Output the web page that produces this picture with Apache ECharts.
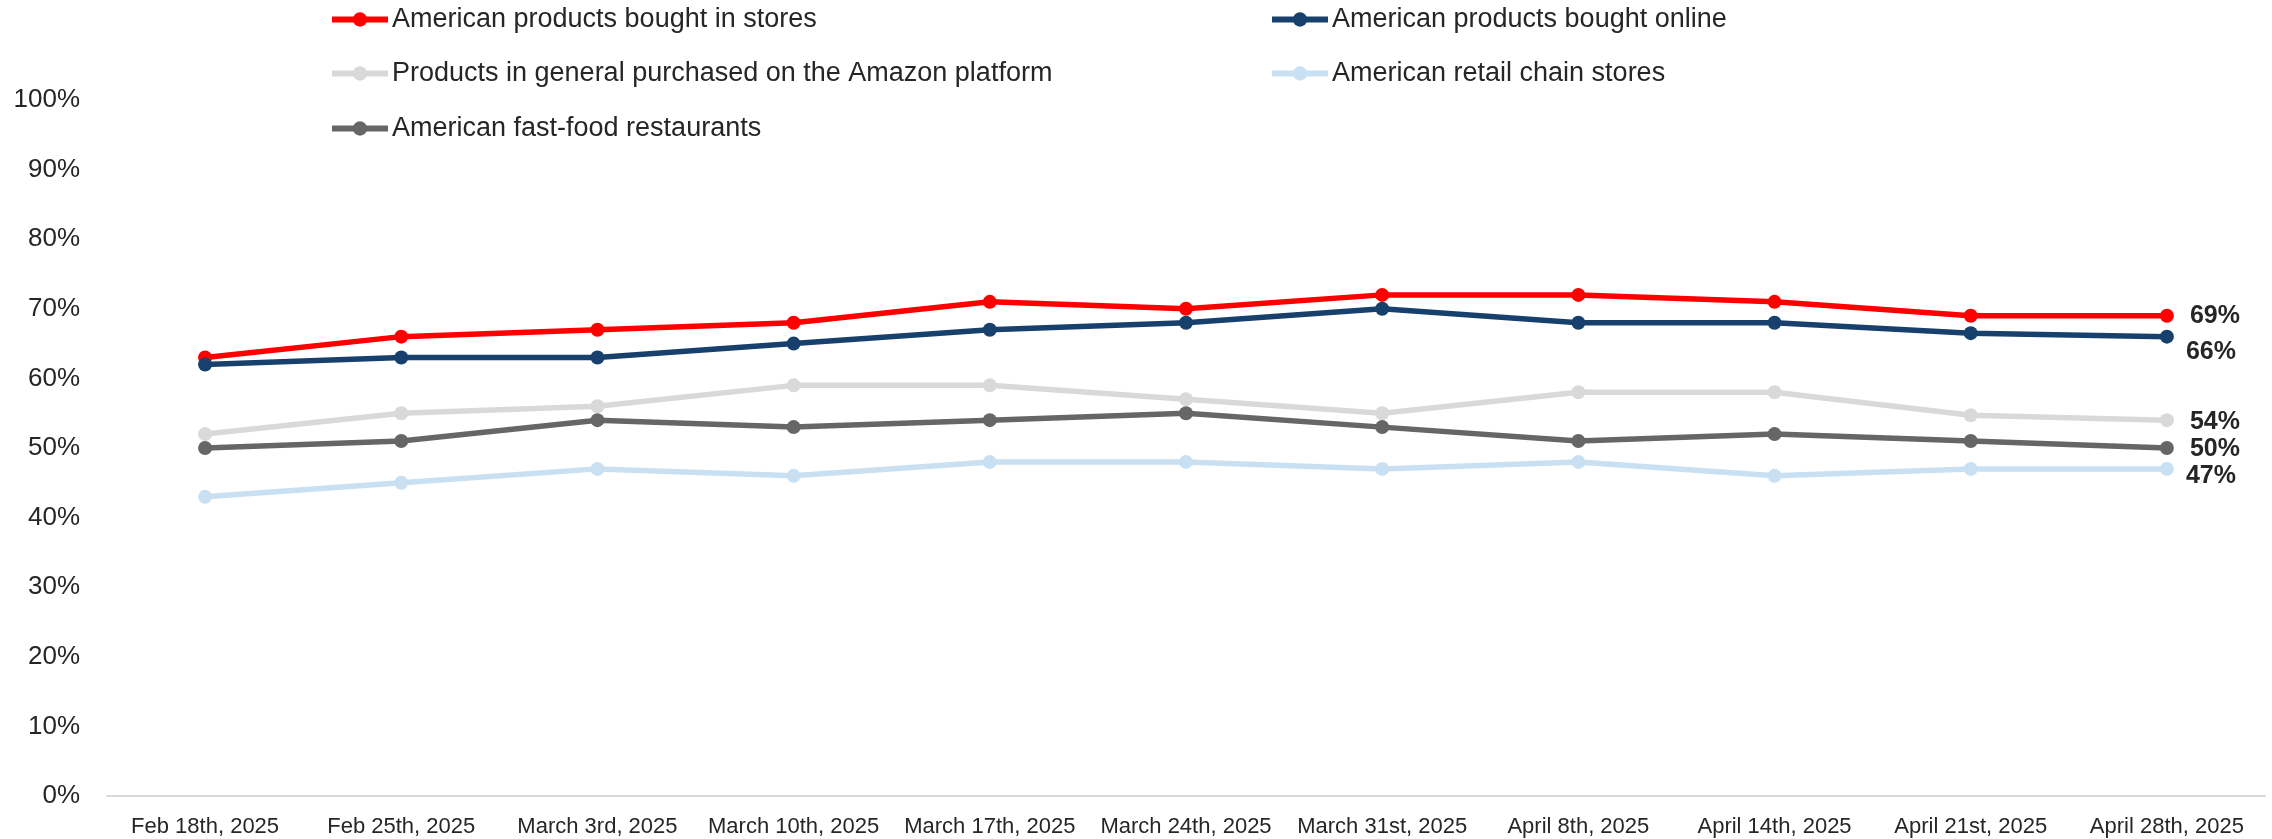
<!DOCTYPE html>
<html>
<head>
<meta charset="utf-8">
<title>American products purchase trend</title>
<script src="https://cdn.jsdelivr.net/npm/echarts@6/dist/echarts.min.js"></script>
<style>
  html, body { margin: 0; padding: 0; background: #ffffff; }
  #chart { width: 2272px; height: 839px; }
</style>
</head>
<body>
<div id="chart"></div>
<script>
// Survey weeks
const categories = [
  'Feb 18th, 2025', 'Feb 25th, 2025', 'March 3rd, 2025', 'March 10th, 2025',
  'March 17th, 2025', 'March 24th, 2025', 'March 31st, 2025', 'April 8th, 2025',
  'April 14th, 2025', 'April 21st, 2025', 'April 28th, 2025'
];

// Share of respondents (%) per item
const storesValues   = [63, 66, 67, 68, 71, 70, 72, 72, 71, 69, 69];
const onlineValues   = [62, 63, 63, 65, 67, 68, 70, 68, 68, 66.5, 66];
const amazonValues   = [52, 55, 56, 59, 59, 57, 55, 58, 58, 54.7, 54];
const retailValues   = [43, 45, 47, 46, 48, 48, 47, 48, 46, 47, 47];
const fastFoodValues = [50, 51, 54, 53, 54, 55, 53, 51, 52, 51, 50];

// Y axis ticks
const yTicks = [0, 10, 20, 30, 40, 50, 60, 70, 80, 90, 100];

const seriesDefs = [
  { name: 'American products bought in stores', data: storesValues, color: '#FF0000', offset: [0, 0] },
  { name: 'American products bought online', data: onlineValues, color: '#17406D', offset: [-4, 15] },
  { name: 'Products in general purchased on the Amazon platform', data: amazonValues, color: '#D9D9D9', offset: [0, 2] },
  { name: 'American retail chain stores', data: retailValues, color: '#C9E0F2', offset: [-4, 7] },
  { name: 'American fast-food restaurants', data: fastFoodValues, color: '#666666', offset: [0, 1] }
];

const FONT = '"Liberation Sans", Arial, sans-serif';
const TEXT = '#262626';
const last = categories.length - 1;

const series = seriesDefs.map(s => ({
  name: s.name,
  type: 'line',
  data: s.data,
  symbol: 'circle',
  symbolSize: 14,
  showSymbol: true,
  color: s.color,
  lineStyle: { width: 5.5, color: s.color },
  itemStyle: { color: s.color },
  emphasis: { disabled: true },
  z: 2,
  label: {
    show: true,
    position: 'right',
    distance: 16,
    offset: s.offset,
    fontFamily: FONT,
    fontSize: 25,
    fontWeight: 'bold',
    color: TEXT,
    formatter: p => (p.dataIndex === last ? Math.round(p.value) + '%' : '')
  }
}));

// Legend laid out in two columns, one component per entry
const legendSlots = [
  { left: 329, top: 6 },
  { left: 1269, top: 6 },
  { left: 329, top: 60 },
  { left: 1269, top: 60 },
  { left: 329, top: 115 }
];
const legends = seriesDefs.map((s, i) => ({
  data: [s.name],
  left: legendSlots[i].left,
  top: legendSlots[i].top,
  padding: 0,
  itemWidth: 56,
  itemHeight: 18,
  selectedMode: false,
  lineStyle: { width: 6 },
  textStyle: { fontFamily: FONT, fontSize: 27, color: TEXT, padding: [0, 0, 0, -1] }
}));

const chart = echarts.init(document.getElementById('chart'), null, { renderer: 'canvas' });
chart.setOption({
  animation: false,
  backgroundColor: '#ffffff',
  legend: legends,
  grid: { left: 107, right: 7, top: 100, bottom: 43, containLabel: false },
  xAxis: {
    type: 'category',
    data: categories,
    boundaryGap: true,
    axisLine: { show: true, lineStyle: { color: '#D9D9D9', width: 2 } },
    axisTick: { show: false },
    axisLabel: { fontFamily: FONT, fontSize: 22, color: TEXT, margin: 20, interval: 0 },
    splitLine: { show: false }
  },
  yAxis: {
    type: 'value',
    min: yTicks[0],
    max: yTicks[yTicks.length - 1],
    interval: yTicks[1] - yTicks[0],
    axisLine: { show: false },
    axisTick: { show: false },
    splitLine: { show: false },
    axisLabel: { fontFamily: FONT, fontSize: 26, color: TEXT, margin: 27, formatter: '{value}%' }
  },
  series: series
});
</script>
</body>
</html>
